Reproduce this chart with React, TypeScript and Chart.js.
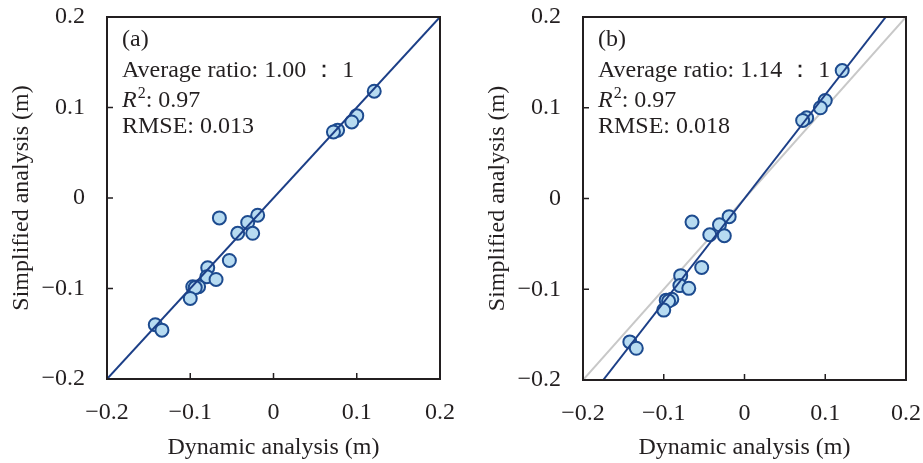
import React, { useEffect, useRef } from "react";
import { Chart, registerables } from "chart.js";
Chart.register(...registerables);

// Dynamic analysis (m) — shared x values of both panels
const dynamicX = [0.121, 0.100, 0.094, 0.077, 0.072, -0.019, -0.031, -0.025, -0.043, -0.065, -0.053, -0.079, -0.080, -0.069, -0.097, -0.090, -0.094, -0.100, -0.142, -0.134];
// Simplified analysis (m)
const simplifiedA = [0.118, 0.091, 0.084, 0.075, 0.073, -0.019, -0.027, -0.039, -0.039, -0.022, -0.069, -0.077, -0.087, -0.090, -0.098, -0.098, -0.099, -0.111, -0.140, -0.146];
const simplifiedB = [0.141, 0.108, 0.100, 0.089, 0.086, -0.020, -0.029, -0.041, -0.040, -0.026, -0.076, -0.085, -0.096, -0.099, -0.112, -0.111, -0.113, -0.123, -0.158, -0.165];

const tickValues = [-0.2, -0.1, 0, 0.1, 0.2];
const oneToOneX = [-0.2, 0.2];
const oneToOneY = [-0.2, 0.2];
const fitBX = [-0.175, 0.175];
const fitBY = [-0.2, 0.2];

const textA = ["(a)", "Average ratio: 1.00 \uFF1A 1", ": 0.97", "RMSE: 0.013"];
const textB = ["(b)", "Average ratio: 1.14 \uFF1A 1", ": 0.97", "RMSE: 0.018"];

const xTitle = "Dynamic analysis (m)";
const yTitle = "Simplified analysis (m)";

const FONT = '"Liberation Serif", "Times New Roman", serif';
const TEXT = "#231f20";
const NAVY = "#1c3f87";
const FILL = "#b7dbf1";
const EDGE = "#1d4b8f";

const fmt = (v: number) => {
  if (Math.abs(v) < 1e-9) return "0";
  const s = Math.abs(v).toFixed(1);
  return v < 0 ? "\u2212" + s : s;
};

const pts = (xs: number[], ys: number[]) => xs.map((x, i) => ({ x, y: ys[i] }));

type PanelProps = {
  left: number; width: number; padRight: number; padTop: number; xAxisH: number;
  ys: number[]; texts: string[]; fit: boolean;
};

function Panel(p: PanelProps) {
  const ref = useRef<HTMLCanvasElement>(null);
  useEffect(() => {
    const texts = p.texts;
    const plugin = {
      id: "frameAndText",
      afterDraw(chart: any) {
        const { ctx, chartArea, scales } = chart;
        const { left, right, top, bottom } = chartArea;
        ctx.save();
        ctx.strokeStyle = TEXT;
        ctx.lineWidth = 2;
        ctx.strokeRect(left, top, right - left, bottom - top);
        ctx.lineWidth = 1.5;
        ctx.beginPath();
        tickValues.forEach((v) => {
          const px = scales.x.getPixelForValue(v);
          ctx.moveTo(px, bottom); ctx.lineTo(px, bottom - 6);
          const py = scales.y.getPixelForValue(v);
          ctx.moveTo(left, py); ctx.lineTo(left + 6, py);
        });
        ctx.stroke();
        // annotation text
        ctx.fillStyle = TEXT;
        ctx.textBaseline = "alphabetic";
        ctx.textAlign = "left";
        const x0 = left + 15;
        ctx.font = `24px ${FONT}`;
        ctx.fillText(texts[0], x0, 46);
        ctx.fillText(texts[1], x0, 77);
        ctx.font = `italic 24px ${FONT}`;
        ctx.fillText("R", x0, 107);
        const rw = ctx.measureText("R").width;
        ctx.font = `16px ${FONT}`;
        ctx.fillText("2", x0 + rw + 1, 98);
        const sw = ctx.measureText("2").width;
        ctx.font = `24px ${FONT}`;
        ctx.fillText(texts[2], x0 + rw + sw + 1, 107);
        ctx.fillText(texts[3], x0, 133);
        ctx.restore();
      },
    };
    const datasets: any[] = [];
    datasets.push({
      type: "scatter",
      data: pts(oneToOneX, oneToOneY),
      showLine: true,
      borderColor: p.fit ? "#c8c8c8" : NAVY,
      borderWidth: 2,
      pointRadius: 0,
      order: p.fit ? 3 : 0,
    });
    if (p.fit) {
      datasets.push({
        type: "scatter",
        data: pts(fitBX, fitBY),
        showLine: true,
        borderColor: NAVY,
        borderWidth: 2,
        pointRadius: 0,
        order: 0,
      });
    }
    datasets.push({
      type: "scatter",
      data: pts(dynamicX, p.ys),
      pointRadius: 6.5,
      pointBackgroundColor: FILL,
      pointBorderColor: EDGE,
      pointBorderWidth: 2,
      order: 1,
    });
    const chart = new Chart(ref.current as HTMLCanvasElement, {
      type: "scatter",
      data: { datasets },
      options: {
        animation: false,
        responsive: false,
        events: [],
        layout: { padding: { left: 0, right: p.padRight, top: p.padTop, bottom: 0 } },
        plugins: { legend: { display: false }, tooltip: { enabled: false } },
        scales: {
          x: {
            type: "linear", min: -0.2, max: 0.2,
            grid: { display: false, drawTicks: false },
            border: { display: false },
            afterBuildTicks: (s: any) => { s.ticks = tickValues.map((v) => ({ value: v })); },
            afterFit: (s: any) => { s.height = p.xAxisH; s.paddingLeft = 0; s.paddingRight = 0; },
            ticks: { padding: 19, color: TEXT, font: { family: FONT, size: 24 }, callback: (v: any) => fmt(Number(v)), maxRotation: 0, autoSkip: false },
            title: { display: true, text: xTitle, color: TEXT, font: { family: FONT, size: 24 }, padding: { top: 0, bottom: 1 } },
          },
          y: {
            type: "linear", min: -0.2, max: 0.2,
            grid: { display: false, drawTicks: false },
            border: { display: false },
            afterBuildTicks: (s: any) => { s.ticks = tickValues.map((v) => ({ value: v })); },
            afterFit: (s: any) => { s.width = 107; s.paddingTop = 0; s.paddingBottom = 0; },
            ticks: { padding: 22, color: TEXT, font: { family: FONT, size: 24 }, callback: (v: any) => fmt(Number(v)), autoSkip: false },
            title: { display: true, text: yTitle, color: TEXT, font: { family: FONT, size: 24 }, padding: { top: 7, bottom: 0 } },
          },
        },
      } as any,
      plugins: [plugin],
    });
    return () => chart.destroy();
  }, []);
  return (
    <canvas
      ref={ref}
      width={p.width}
      height={463}
      style={{ position: "absolute", left: p.left, top: 0, width: p.width, height: 463 }}
    />
  );
}

export default function App() {
  return (
    <div style={{ position: "fixed", left: 0, top: 0, width: 923, height: 463, background: "#fff", overflow: "hidden" }}>
      <Panel left={0} width={470} padRight={30} padTop={17} xAxisH={84} ys={simplifiedA} texts={textA} fit={false} />
      <Panel left={476} width={447} padRight={17} padTop={17} xAxisH={83} ys={simplifiedB} texts={textB} fit={true} />
    </div>
  );
}
